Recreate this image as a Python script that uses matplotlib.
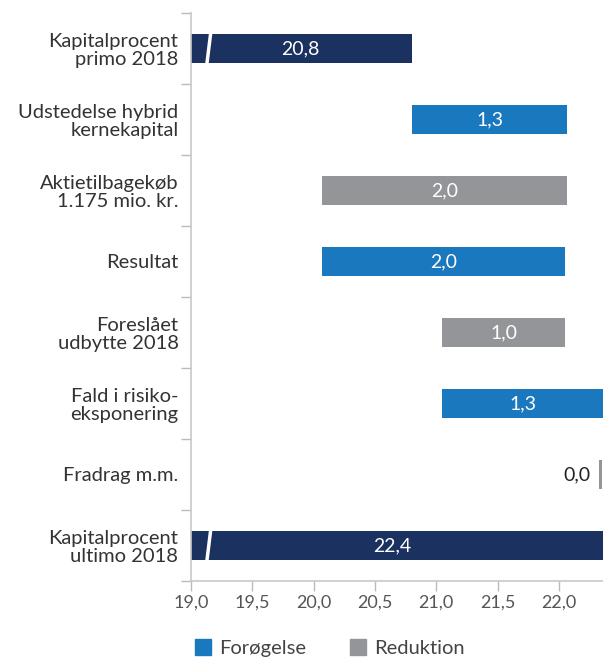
import matplotlib.pyplot as plt
import numpy as np
from matplotlib.patches import Patch
from matplotlib.ticker import FuncFormatter, FixedLocator

plt.rcParams['font.family'] = ['Lato', 'DejaVu Sans']

labels = ['Kapitalprocent\nprimo 2018', 'Udstedelse hybrid\nkernekapital',
          'Aktietilbagekøb\n1.175 mio. kr.', 'Resultat', 'Foreslået\nudbytte 2018',
          'Fald i risiko-\neksponering', 'Fradrag m.m.', 'Kapitalprocent\nultimo 2018']
start_value = 20.8
changes = [1.27, -2.0, 1.98, -1.0, 1.31, -0.0]
end_value = 22.4
shown = ['20,8', '1,3', '2,0', '2,0', '1,0', '1,3', '0,0', '22,4']

navy = '#1b3160'
blue = '#1a78be'
grey = '#939598'
base = 19.0
xmax = 22.36

fig = plt.figure(figsize=(6.03, 6.61), dpi=100)
ax = fig.add_axes([191/603, 80/661, 412/603, 568/661])

y = np.arange(len(labels))
h = 0.42

# totals
ax.barh(y[0], start_value - base, left=base, height=h, color=navy)
ax.barh(y[-1], end_value - base, left=base, height=h, color=navy)

level = start_value
for i, d in enumerate(changes):
    yi = y[i + 1]
    if d >= 0:
        ax.barh(yi, d, left=level, height=h, color=blue)
    else:
        ax.barh(yi, -d, left=level + d, height=h, color=grey)
    level += d

# Fradrag ~0: thin marker at right edge
ax.barh(y[6], 0.02, left=xmax - 0.03, height=h, color=grey)

# value labels
ax.text(19.89, y[0], shown[0], color='white', ha='center', va='center', fontsize=14)
ax.text(20.64, y[-1], shown[-1], color='white', ha='center', va='center', fontsize=14)
level = start_value
for i, d in enumerate(changes):
    yi = y[i + 1]
    if i == 5:
        ax.text(xmax - 0.1, yi, shown[i + 1], color='#222222', ha='right', va='center', fontsize=14)
    else:
        ax.text(level + d / 2, yi, shown[i + 1], color='white', ha='center', va='center', fontsize=14)
    level += d

# axis break marks
for yi in [y[0], y[-1]]:
    ax.plot([19.13, 19.16], [yi + h / 2, yi - h / 2], color='white', lw=2.5, solid_capstyle='butt')

ax.set_xlim(base, xmax)
ax.set_ylim(len(labels) - 0.5, -0.5)

ax.set_yticks(y)
ax.set_yticklabels(labels, fontsize=14.5, color='#333333', linespacing=1.05)
ax.yaxis.set_minor_locator(FixedLocator(np.arange(-0.5, len(labels), 1.0)))
ax.tick_params(axis='y', which='major', length=0, pad=9)
ax.tick_params(axis='y', which='minor', length=7, color='#bbbbbb', width=1)

ax.set_xticks(np.arange(19.0, 22.01, 0.5))
ax.xaxis.set_major_formatter(FuncFormatter(lambda v, p: f'{v:.1f}'.replace('.', ',')))
ax.tick_params(axis='x', length=7, color='#bbbbbb', width=1, labelsize=13, labelcolor='#555555', pad=3)

for s in ['top', 'right']:
    ax.spines[s].set_visible(False)
for s in ['left', 'bottom']:
    ax.spines[s].set_color('#c8c8c8')
    ax.spines[s].set_linewidth(1.2)

handles = [Patch(color=blue, label='Forøgelse'), Patch(color=grey, label='Reduktion')]
fig.legend(handles=handles, loc='center', bbox_to_anchor=(330/603, 1 - 648/661), ncol=2,
           frameon=False, fontsize=14.5, handlelength=0.8, handleheight=0.8,
           columnspacing=2.2, handletextpad=0.4, labelcolor='#444444', borderpad=0)

fig.savefig('out.png', dpi=100)
